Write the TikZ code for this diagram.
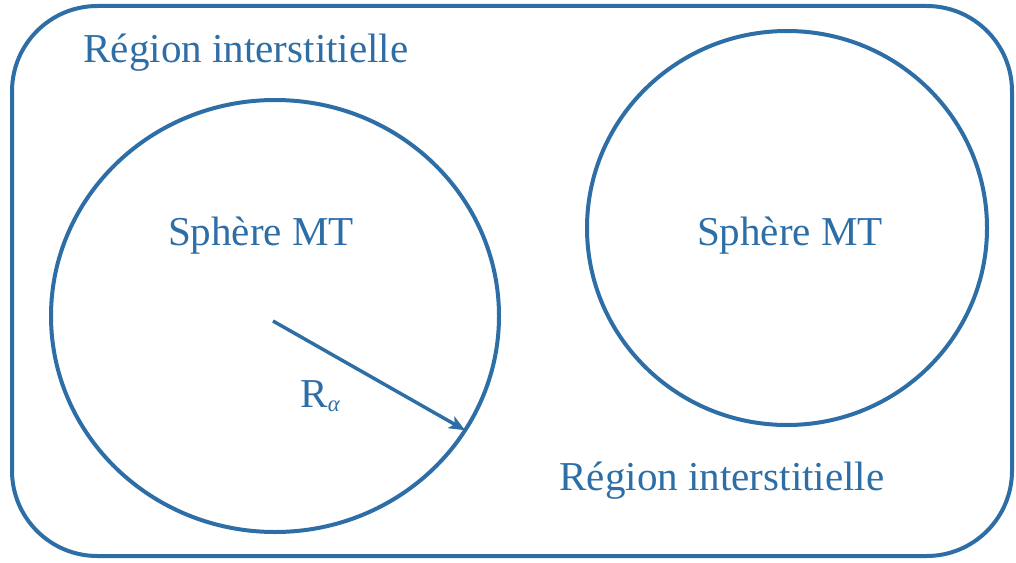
\documentclass[tikz,border=0pt]{standalone}
\usepackage{fontspec}
\setmainfont{Liberation Serif}
\usetikzlibrary{shapes.geometric,arrows.meta}
\definecolor{mtblue}{RGB}{46,110,166}
\tikzset{
  outline/.style={draw=mtblue, line width=3pt, outer sep=0pt, inner sep=0pt},
  sphere/.style={outline, ellipse},
  lbl/.style={text=mtblue, font=\fontsize{30.8}{36}\selectfont, inner sep=0pt, anchor=base},
  radius arrow/.style={draw=mtblue, line width=2.6pt, -{Stealth[length=12pt,width=10pt,inset=3pt]}}
}
\begin{document}
\begin{tikzpicture}[x=0.75pt,y=-0.75pt]
\useasboundingbox (0,0) rectangle (1016,563);
\node[outline, rounded corners=64pt, minimum width=750pt, minimum height=412.5pt] (box) at (512,281) {};
\node[sphere, minimum width=336pt, minimum height=324pt] (L) at (275,316) {};
\node[sphere, minimum width=300pt, minimum height=295.5pt] (R) at (787,228) {};
\node[lbl] (t1) at (246,63) {Région interstitielle};
\node[lbl] (t2) at (722,490) {Région interstitielle};
\node[lbl] (s1) at (261,245) {Sphère MT};
\node[lbl] (s2) at (790,245) {Sphère MT};
\node[lbl] (ra) at (320,407) {R\raisebox{-0.12em}{\fontsize{17}{20}\selectfont\itshape α}};
\coordinate (c0) at (273,321);
\draw[radius arrow] (c0) -- (L.-31.6);
\end{tikzpicture}
\end{document}
